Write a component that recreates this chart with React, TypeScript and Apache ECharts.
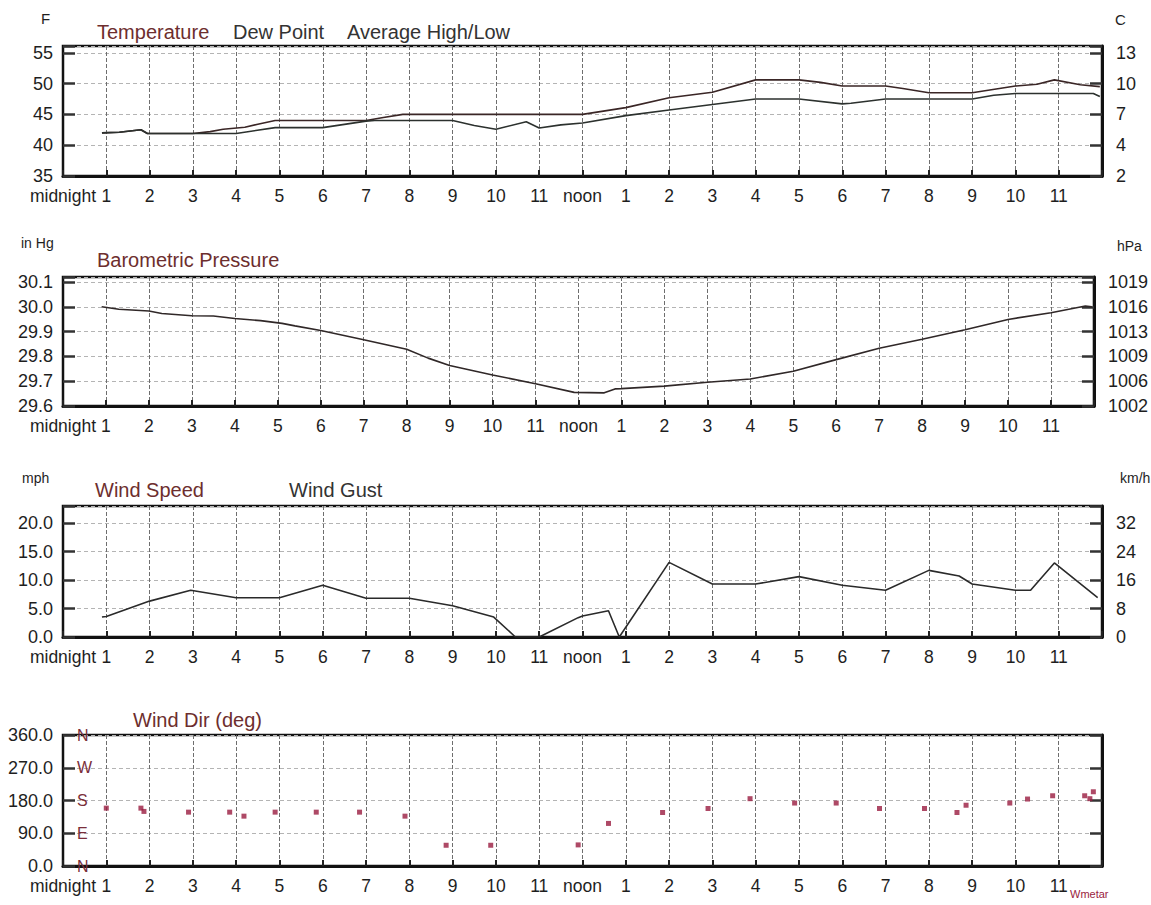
import React, { useEffect, useRef } from "react";
import * as echarts from "echarts";

// ---- data (hour of day, value) ----
const tempHours = [0.9, 1.3, 1.8, 1.95, 3.0, 3.4, 3.7, 4.2, 4.5, 4.9, 7.0, 7.4, 7.85, 12.0, 13.0, 14.0, 15.0, 16.0, 17.0, 17.5, 18.0, 19.0, 19.4, 20.0, 21.0, 22.0, 22.5, 22.9, 23.5, 23.95];
const tempF = [42.0, 42.1, 42.5, 41.9, 41.9, 42.2, 42.6, 42.9, 43.4, 44.0, 44.0, 44.5, 45.0, 45.0, 46.1, 47.7, 48.6, 50.6, 50.6, 50.2, 49.6, 49.6, 49.2, 48.5, 48.5, 49.6, 49.9, 50.6, 49.8, 49.5];

const dewHours = [0.9, 1.3, 1.8, 1.95, 3.0, 4.0, 4.9, 6.0, 7.0, 7.2, 9.0, 9.5, 10.0, 10.7, 11.0, 11.5, 12.0, 13.0, 14.0, 15.0, 16.0, 17.0, 18.0, 18.2, 19.0, 21.0, 21.5, 22.0, 23.8, 23.95];
const dewF = [42.0, 42.1, 42.5, 41.9, 41.9, 41.9, 42.85, 42.85, 43.9, 44.0, 44.0, 43.2, 42.6, 43.8, 42.8, 43.3, 43.6, 44.8, 45.7, 46.6, 47.5, 47.5, 46.7, 46.8, 47.5, 47.5, 48.1, 48.4, 48.4, 47.9];

const pressHours = [0.9, 1.3, 2.0, 2.3, 3.0, 3.5, 4.0, 4.6, 5.1, 5.4, 6.0, 7.0, 8.0, 8.5, 9.0, 10.0, 11.0, 11.9, 12.6, 12.85, 13.0, 14.0, 15.0, 16.0, 17.0, 18.0, 19.0, 20.0, 21.0, 22.0, 23.0, 23.8, 23.95];
const pressInHg = [30.0, 29.99, 29.983, 29.973, 29.964, 29.963, 29.953, 29.944, 29.933, 29.923, 29.904, 29.867, 29.829, 29.793, 29.763, 29.725, 29.69, 29.655, 29.653, 29.669, 29.67, 29.68, 29.696, 29.709, 29.74, 29.787, 29.833, 29.869, 29.907, 29.949, 29.976, 30.003, 30.0];

const windHours = [0.9, 1.0, 2.0, 2.95, 4.0, 5.0, 6.0, 7.0, 8.0, 9.0, 9.95, 10.45, 11.0, 11.9, 12.0, 12.6, 12.85, 14.0, 15.0, 16.0, 17.0, 18.0, 19.0, 20.0, 20.7, 21.0, 22.0, 22.35, 22.9, 23.9];
const windMph = [3.5, 3.6, 6.3, 8.2, 6.9, 6.9, 9.1, 6.8, 6.8, 5.5, 3.5, 0, 0, 3.4, 3.7, 4.6, 0, 13.1, 9.3, 9.3, 10.6, 9.1, 8.2, 11.7, 10.7, 9.3, 8.2, 8.2, 13.0, 6.9];

const dirHours = [1.0, 1.8, 1.87, 2.9, 3.85, 4.18, 4.9, 5.85, 6.85, 7.9, 8.85, 9.88, 11.9, 12.6, 13.85, 14.9, 15.87, 16.9, 17.86, 18.86, 19.9, 20.65, 20.86, 21.87, 22.28, 22.86, 23.6, 23.72, 23.8];
const dirDeg = [159, 159, 150, 148, 148, 137, 148, 148, 148, 137, 57, 57, 58, 117, 147, 158, 185, 173, 173, 158, 158, 147, 167, 173, 184, 193, 193, 185, 204];

const compassLabels = ["N", "E", "S", "W", "N"];

const zip = (xs: number[], ys: number[]) => xs.map((x, i) => [x, ys[i]]);

const FONT = "Liberation Sans, Arial, sans-serif";
const DARK = "#1e1e1e";
const BROWN = "#6d2e2e";

const hourLabel = (v: number) => {
  if (v === 0) return "midnight";
  if (v === 12) return "noon";
  if (v >= 24) return "";
  return String(v > 12 ? v - 12 : v);
};

const isMult = (v: number, step: number) => Math.abs(v / step - Math.round(v / step)) < 1e-6;

const grids = [
  { left: 63, right: 49, top: 46, height: 130 },
  { left: 63, right: 49, top: 277, height: 129 },
  { left: 63, right: 49, top: 506, height: 131 },
  { left: 63, right: 49, top: 735, height: 131 },
];

function makeX(i: number) {
  return {
    type: "value",
    gridIndex: i,
    min: 0,
    max: 24,
    interval: 1,
    axisLine: { show: true, lineStyle: { color: "#111", width: 3 } },
    axisTick: { show: true, inside: true, length: 6, lineStyle: { color: "#222", width: 2 } },
    axisLabel: { formatter: hourLabel, fontSize: 17.5, fontFamily: FONT, color: DARK, margin: 11 },
    splitLine: { show: true, lineStyle: { color: "#6e6e6e", width: 1, type: [4, 2] } },
  };
}

function makeY(i: number, min: number, max: number, step: number, fmt: (v: number) => string, side: "left" | "right", split: boolean) {
  return {
    type: "value",
    gridIndex: i,
    position: side,
    min,
    max,
    interval: step,
    axisLine: { show: true, lineStyle: { color: "#111", width: side === "right" ? 3 : 2 } },
    axisTick: { show: true, inside: true, length: 12, lineStyle: { color: "#333", width: 2.5 } },
    axisLabel: {
      formatter: (v: number) => (isMult(v, step) ? fmt(v) : ""),
      fontSize: 18,
      fontFamily: FONT,
      color: DARK,
      margin: side === "right" ? 14 : 10,
    },
    splitLine: { show: split, lineStyle: { color: "#b4b4b4", width: 1, type: [4, 3] } },
  };
}

function txt(text: string, x: number, y: number, size: number, color: string) {
  return {
    type: "text",
    x,
    y,
    silent: true,
    style: { text, fill: color, font: `${size}px ${FONT}`, align: "left", verticalAlign: "middle" },
  };
}

export default function App() {
  const ref = useRef<HTMLDivElement>(null);
  useEffect(() => {
    if (!ref.current) return;
    const chart = echarts.init(ref.current, null, { renderer: "svg" });
    const lineStyle = (c: string) => ({ color: c, width: 1.6 });
    chart.setOption({
      animation: false,
      backgroundColor: "#ffffff",
      grid: grids.map((g) => ({ ...g, show: true, borderColor: "#111", borderWidth: 2.5, backgroundColor: "transparent" })),
      xAxis: [makeX(0), makeX(1), makeX(2), makeX(3)],
      yAxis: [
        makeY(0, 35, 56.1, 5, (v) => String(v), "left", true),
        makeY(0, 35, 56.1, 5, (v) => String(Math.round(((v - 32) * 5) / 9)), "right", false),
        makeY(1, 29.6, 30.12, 0.1, (v) => v.toFixed(1), "left", true),
        makeY(1, 29.6, 30.12, 0.1, (v) => String(Math.round(v * 33.8639)), "right", false),
        makeY(2, 0, 23, 5, (v) => v.toFixed(1), "left", true),
        makeY(2, 0, 23, 5, (v) => String(Math.round(v * 1.609)), "right", false),
        makeY(3, 0, 360, 90, (v) => v.toFixed(1), "left", true),
        {
          type: "value",
          gridIndex: 3,
          position: "left",
          min: 0,
          max: 360,
          interval: 90,
          axisLine: { show: false },
          axisTick: { show: false },
          splitLine: { show: false },
          axisLabel: {
            inside: true,
            margin: 14,
            fontSize: 16,
            fontFamily: FONT,
            color: "#7a2e3a",
            formatter: (v: number) => (isMult(v, 90) ? compassLabels[Math.round(v / 90)] : ""),
          },
        },
        {
          ...makeY(3, 0, 360, 90, () => "", "right", false),
          axisLabel: { show: false },
        },
      ],
      series: [
        { name: "Temperature", type: "line", xAxisIndex: 0, yAxisIndex: 0, data: zip(tempHours, tempF), showSymbol: false, lineStyle: lineStyle("#3a2626") },
        { name: "Dew Point", type: "line", xAxisIndex: 0, yAxisIndex: 0, data: zip(dewHours, dewF), showSymbol: false, lineStyle: lineStyle("#2c312e") },
        { name: "Barometric Pressure", type: "line", xAxisIndex: 1, yAxisIndex: 2, data: zip(pressHours, pressInHg), showSymbol: false, lineStyle: lineStyle("#302828") },
        { name: "Wind Speed", type: "line", xAxisIndex: 2, yAxisIndex: 4, data: zip(windHours, windMph), showSymbol: false, lineStyle: lineStyle("#2a2a2a") },
        { name: "Wind Dir", type: "scatter", xAxisIndex: 3, yAxisIndex: 6, data: zip(dirHours, dirDeg), symbol: "rect", symbolSize: 5, itemStyle: { color: "#9a1c40" } },
      ],
      graphic: [
        txt("F", 41, 18, 15, DARK),
        txt("Temperature", 97, 32, 20, BROWN),
        txt("Dew Point", 233, 32, 20, "#333"),
        txt("Average High/Low", 347, 32, 20, "#333"),
        txt("C", 1115, 19, 15, DARK),
        txt("in Hg", 21, 243, 14, DARK),
        txt("Barometric Pressure", 97, 260, 20, BROWN),
        txt("hPa", 1117, 246, 14, DARK),
        txt("mph", 22, 478, 14, DARK),
        txt("Wind Speed", 95, 490, 20, BROWN),
        txt("Wind Gust", 289, 490, 20, "#333"),
        txt("km/h", 1120, 478, 14, DARK),
        txt("Wind Dir (deg)", 133, 720, 20, BROWN),
        txt("Wmetar", 1070, 894, 11, "#9a1c40"),
      ],
    });
    return () => chart.dispose();
  }, []);
  return <div ref={ref} style={{ position: "absolute", left: 0, top: 0, width: 1151, height: 905 }} />;
}
